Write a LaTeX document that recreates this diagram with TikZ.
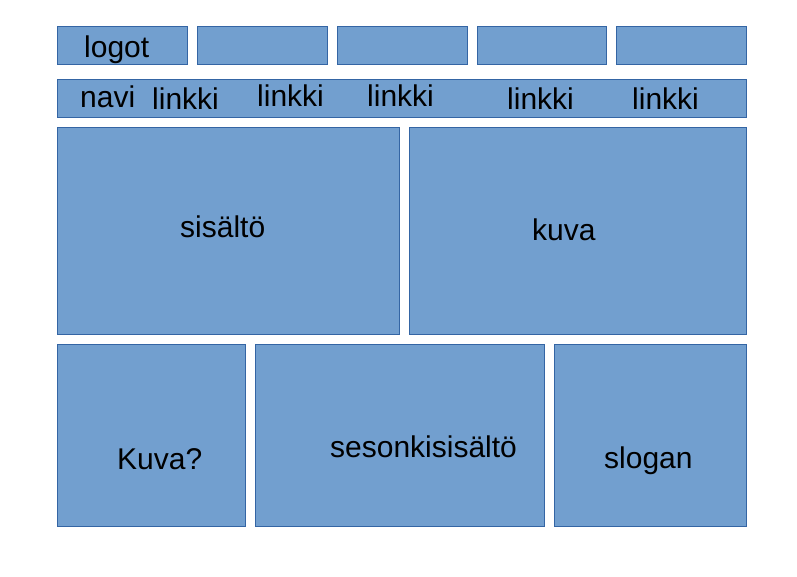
\documentclass[tikz,border=0pt]{standalone}
\usepackage{fontspec}
\setmainfont{Liberation Sans}
\definecolor{boxfill}{HTML}{729FCF}
\definecolor{boxline}{HTML}{3465A4}
\begin{document}
\begin{tikzpicture}[x=1pt,y=-1pt,
  panel/.style={draw=boxline,fill=boxfill,line width=1pt},
  lbl/.style={anchor=base west,inner sep=0pt,font=\fontsize{30}{36}\selectfont}]
\useasboundingbox (0,0) rectangle (797,576);
% top row
\draw[panel] (57,26) rectangle (187,64);
\draw[panel] (197,26) rectangle (327,64);
\draw[panel] (337,26) rectangle (467,64);
\draw[panel] (477,26) rectangle (606,64);
\draw[panel] (616,26) rectangle (746,64);
% nav
\draw[panel] (57,79) rectangle (746,117);
% content
\draw[panel] (57,127) rectangle (399,334);
\draw[panel] (409,127) rectangle (746,334);
% bottom
\draw[panel] (57,344) rectangle (245,526);
\draw[panel] (255,344) rectangle (544,526);
\draw[panel] (554,344) rectangle (746,526);
% labels
\node[lbl] (logot) at (84,57) {logot};
\node[lbl] (navi) at (80,107) {navi};
\node[lbl] (l1) at (152,109) {linkki};
\node[lbl] (l2) at (257,106) {linkki};
\node[lbl] (l3) at (367,106) {linkki};
\node[lbl] (l4) at (507,109.5) {linkki};
\node[lbl] (l5) at (632,109.5) {linkki};
\node[lbl] (sis) at (180,237) {sisältö};
\node[lbl] (kuva) at (532,240) {kuva};
\node[lbl] (kuva2) at (117,469) {Kuva?};
\node[lbl] (seso) at (330,457) {sesonkisisältö};
\node[lbl] (slog) at (604,468) {slogan};
\end{tikzpicture}
\end{document}
